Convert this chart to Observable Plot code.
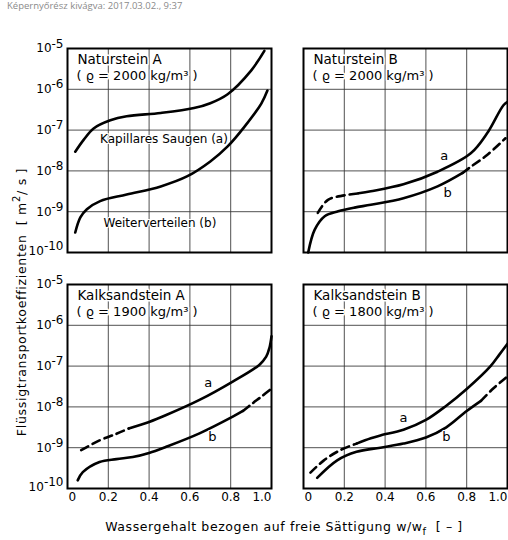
<!DOCTYPE html>
<html><head><meta charset="utf-8">
<script src="https://cdn.jsdelivr.net/npm/d3@7"></script>
<script src="https://cdn.jsdelivr.net/npm/@observablehq/plot@0.6"></script>
<style>
body{margin:0;background:#fff;}
#wrap{position:relative;width:508px;height:540px;overflow:hidden;font-family:"DejaVu Sans",sans-serif;color:#000;}
#chart{position:absolute;left:0;top:0;}
#hdr{position:absolute;left:7px;top:0px;font:9.5px "Open Sans",sans-serif;color:#8a8a8a;white-space:nowrap;line-height:12px;}
#ytitle{position:absolute;left:20px;top:302px;transform:translate(-50%,-50%) rotate(-90deg);white-space:nowrap;font-size:12.5px;letter-spacing:.7px;}
#xtitle{position:absolute;left:284px;top:528px;transform:translate(-50%,-50%);white-space:nowrap;font-size:12.5px;letter-spacing:.6px;}
sup,sub{font-size:0.8em;}
</style></head><body>
<div id="wrap"><div id="chart"></div>
<div id="hdr">Képernyőrész kivágva: 2017.03.02., 9:37</div>
<div id="ytitle">Flüssigtransportkoeffizienten&nbsp;&nbsp;[ m<sup>2</sup>/ s ]</div>
<div id="xtitle">Wassergehalt bezogen auf freie Sättigung w/w<sub>f</sub>&nbsp;&nbsp;[ – ]</div>
</div>
<script>
// ---- panels ----
const panelNames = ["Naturstein A","Naturstein B","Kalksandstein A","Kalksandstein B"];
const panelCols  = ["A","B","A","B"];
const panelRows  = ["Naturstein","Naturstein","Kalksandstein","Kalksandstein"];
const densities  = ["( ϱ = 2000 kg/m³ )","( ϱ = 2000 kg/m³ )","( ϱ = 1900 kg/m³ )","( ϱ = 1800 kg/m³ )"];
const xTicks = [0, 0.2, 0.4, 0.6, 0.8, 1.0];
const yTicks = [1e-10, 1e-9, 1e-8, 1e-7, 1e-6, 1e-5];

// ---- Naturstein A ----
const natA_a_x = [0.038, 0.079, 0.128, 0.21, 0.29, 0.457, 0.62, 0.70, 0.785, 0.9, 0.965];
const natA_a_y = [2.95e-8, 5.75e-8, 1.10e-7, 1.74e-7, 2.19e-7, 2.63e-7, 3.47e-7, 4.57e-7, 7.59e-7, 2.88e-6, 8.71e-6];
const natA_b_x = [0.038, 0.063, 0.095, 0.16, 0.29, 0.457, 0.588, 0.70, 0.785, 0.867, 0.95, 0.98];
const natA_b_y = [3.09e-10, 7.24e-10, 1.15e-9, 1.82e-9, 2.63e-9, 4.17e-9, 7.41e-9, 1.70e-8, 3.98e-8, 1.20e-7, 4.47e-7, 9.33e-7];

// ---- Naturstein B ----
const natB_a_dash_x = [0.07, 0.12, 0.2, 0.27];
const natB_a_dash_y = [9.33e-10, 1.95e-9, 2.51e-9, 2.82e-9];
const natB_a_x = [0.27, 0.33, 0.49, 0.657, 0.82, 0.9, 0.98, 1.0];
const natB_a_y = [2.82e-9, 3.16e-9, 4.68e-9, 9.55e-9, 2.69e-8, 8.32e-8, 4.07e-7, 4.90e-7];
const natB_b_x = [0.023, 0.055, 0.104, 0.17, 0.25, 0.33, 0.49, 0.657, 0.78];
const natB_b_y = [1.0e-10, 3.63e-10, 7.76e-10, 1.02e-9, 1.26e-9, 1.48e-9, 2.14e-9, 4.17e-9, 8.91e-9];
const natB_b_dash_x = [0.78, 0.82, 0.9, 0.99];
const natB_b_dash_y = [8.91e-9, 1.26e-8, 2.45e-8, 6.31e-8];

// ---- Kalksandstein A ----
const kalA_a_dash_x = [0.067, 0.157, 0.24, 0.3];
const kalA_a_dash_y = [8.71e-10, 1.51e-9, 2.19e-9, 2.95e-9];
const kalA_a_x = [0.3, 0.4, 0.484, 0.647, 0.81, 0.94, 0.974, 0.99, 1.0];
const kalA_a_y = [2.95e-9, 4.27e-9, 6.31e-9, 1.48e-8, 4.17e-8, 1.07e-7, 1.70e-7, 2.82e-7, 5.37e-7];
const kalA_b_x = [0.05, 0.075, 0.157, 0.24, 0.32, 0.4, 0.484, 0.647, 0.81, 0.86];
const kalA_b_y = [1.58e-10, 2.51e-10, 4.47e-10, 5.25e-10, 5.89e-10, 7.41e-10, 1.05e-9, 2.24e-9, 5.75e-9, 7.94e-9];
const kalA_b_dash_x = [0.86, 0.908, 0.95, 1.0];
const kalA_b_dash_y = [7.94e-9, 1.23e-8, 1.78e-8, 2.82e-8];

// ---- Kalksandstein B ----
const kalB_a_dash_x = [0.034, 0.1, 0.18, 0.26];
const kalB_a_dash_y = [2.45e-10, 4.90e-10, 8.71e-10, 1.26e-9];
const kalB_a_x = [0.26, 0.33, 0.377, 0.49, 0.6, 0.7, 0.8, 0.917, 0.96, 1.0];
const kalB_a_y = [1.26e-9, 1.70e-9, 2.0e-9, 2.75e-9, 4.79e-9, 1.07e-8, 2.75e-8, 1.0e-7, 1.91e-7, 3.55e-7];
const kalB_b_x = [0.067, 0.165, 0.26, 0.377, 0.49, 0.6, 0.7, 0.8, 0.87];
const kalB_b_y = [1.82e-10, 4.90e-10, 7.94e-10, 1.0e-9, 1.26e-9, 1.78e-9, 3.16e-9, 7.94e-9, 1.41e-8];
const kalB_b_dash_x = [0.87, 0.93, 1.0];
const kalB_b_dash_y = [1.41e-8, 2.82e-8, 5.62e-8];

// ---- curve labels ----
const labelPanel = [0, 0, 1, 1, 2, 2, 3, 3];
const labelText  = ["Kapillares Saugen (a)", "Weiterverteilen (b)", "a", "b", "a", "b", "a", "b"];
const labelX     = [0.473, 0.453, 0.69, 0.706, 0.69, 0.71, 0.49, 0.70];
const labelY     = [5.9e-8, 5.2e-10, 2.34e-8, 2.9e-9, 3.8e-8, 1.8e-9, 5.25e-9, 1.8e-9];

// ---- build tables ----
const rows = [];
function seg(p, key, dashed, xs, ys) {
  xs.forEach((x, i) => rows.push({key: p + key + dashed, dashed, x, y: ys[i], col: panelCols[p], row: panelRows[p]}));
}
seg(0, "a", false, natA_a_x, natA_a_y);
seg(0, "b", false, natA_b_x, natA_b_y);
seg(1, "a", true, natB_a_dash_x, natB_a_dash_y);
seg(1, "a", false, natB_a_x, natB_a_y);
seg(1, "b", false, natB_b_x, natB_b_y);
seg(1, "b", true, natB_b_dash_x, natB_b_dash_y);
seg(2, "a", true, kalA_a_dash_x, kalA_a_dash_y);
seg(2, "a", false, kalA_a_x, kalA_a_y);
seg(2, "b", false, kalA_b_x, kalA_b_y);
seg(2, "b", true, kalA_b_dash_x, kalA_b_dash_y);
seg(3, "a", true, kalB_a_dash_x, kalB_a_dash_y);
seg(3, "a", false, kalB_a_x, kalB_a_y);
seg(3, "b", false, kalB_b_x, kalB_b_y);
seg(3, "b", true, kalB_b_dash_x, kalB_b_dash_y);

const titles = panelNames.map((n, i) => ({name: n, dens: densities[i], col: panelCols[i], row: panelRows[i]}));
const labels = labelText.map((t, i) => ({text: t, x: labelX[i], y: labelY[i], col: panelCols[labelPanel[i]], row: panelRows[labelPanel[i]], big: t.length > 1}));

const chart = Plot.plot({
  width: 508, height: 540,
  marginLeft: 67, marginRight: 1, marginTop: 47, marginBottom: 51,
  style: {fontFamily: "DejaVu Sans, sans-serif", fontSize: "12px", color: "#000", background: "transparent", overflow: "visible"},
  fx: {domain: ["A", "B"], paddingInner: 0.136, paddingOuter: 0, axis: null},
  fy: {domain: ["Naturstein", "Kalksandstein"], paddingInner: 0.135, paddingOuter: 0, axis: null},
  x: {domain: [0, 1], ticks: xTicks, tickFormat: d => d === 0 ? "0" : d.toFixed(1), tickSize: 0, tickPadding: 4, label: null},
  y: {type: "log", domain: [1e-10, 1e-5], ticks: yTicks, tickFormat: d => "10^" + Math.round(Math.log10(d)), tickSize: 0, tickPadding: 4, label: null},
  marks: [
    Plot.gridX(xTicks, {stroke: "#333", strokeOpacity: 0.85, strokeWidth: 1}),
    Plot.gridY(yTicks, {stroke: "#333", strokeOpacity: 0.85, strokeWidth: 1}),
    Plot.frame({stroke: "#000", strokeWidth: 2}),
    Plot.line(rows.filter(d => !d.dashed), {x: "x", y: "y", z: "key", fx: "col", fy: "row", curve: "catmull-rom", stroke: "#000", strokeWidth: 2.6}),
    Plot.line(rows.filter(d => d.dashed), {x: "x", y: "y", z: "key", fx: "col", fy: "row", curve: "catmull-rom", stroke: "#000", strokeWidth: 2.6, strokeDasharray: "8,5"}),
    Plot.text(titles, {text: "name", fx: "col", fy: "row", frameAnchor: "top-left", textAnchor: "start", lineAnchor: "top", dx: 10, dy: 6, fontSize: 13.5, fill: "#000", stroke: "white", strokeWidth: 3}),
    Plot.text(titles, {text: "dens", fx: "col", fy: "row", frameAnchor: "top-left", textAnchor: "start", lineAnchor: "top", dx: 9, dy: 22, fontSize: 13, fill: "#000", stroke: "white", strokeWidth: 3}),
    Plot.text(labels, {text: "text", x: "x", y: "y", fx: "col", fy: "row", fontSize: d => d.big ? 12 : 13, fill: "#000", stroke: "white", strokeWidth: 2})
  ]
});
document.getElementById("chart").append(chart);

// superscript exponents on y tick labels
const NS = "http://www.w3.org/2000/svg";
chart.querySelectorAll('g[aria-label="y-axis tick label"] text').forEach(t => {
  const m = t.textContent.match(/^10\^(-?\d+)$/);
  if (!m) return;
  t.textContent = "";
  const a = document.createElementNS(NS, "tspan"); a.textContent = "10";
  const b = document.createElementNS(NS, "tspan"); b.setAttribute("dy", "-0.4em"); b.textContent = m[1];
  t.append(a, b);
  if (m[1] === "-10") t.setAttribute("dy", "-0.1em");
});
// keep end x tick labels inside the frame, as in the original
chart.querySelectorAll('g[aria-label="x-axis tick label"] text').forEach(t => {
  if (t.textContent === "1.0") t.setAttribute("text-anchor", "end");
  if (t.textContent === "0") { t.setAttribute("text-anchor", "start"); t.setAttribute("dx", "1"); }
});
</script>
</body></html>
